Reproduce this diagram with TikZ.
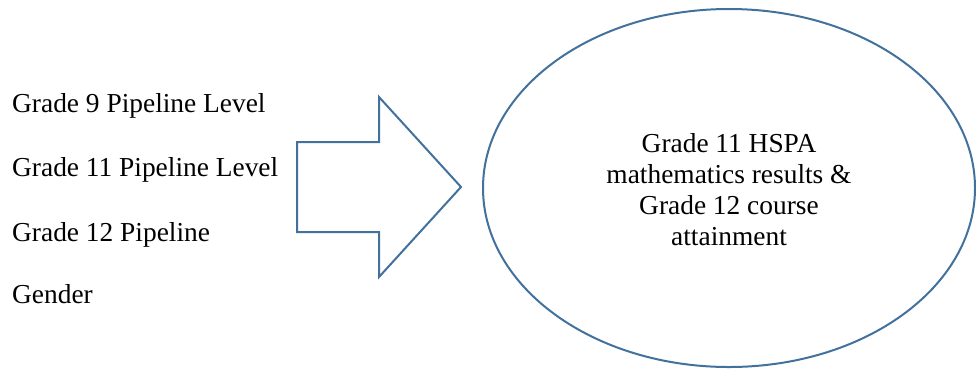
\documentclass[tikz,border=0pt]{standalone}
\usepackage{fontspec}
\setmainfont{Liberation Serif}
\usetikzlibrary{shapes.geometric}
\definecolor{outline}{RGB}{65,113,156}

\begin{document}
\begin{tikzpicture}[x=1pt,y=-1pt]
            \tikzstyle{txt}=[inner sep=0pt, font=\fontsize{27.4}{31}\selectfont]
            \tikzstyle{edge}=[draw=outline, line width=2pt, line join=miter]

            \useasboundingbox (0,0) rectangle (976,368);

            \node[txt, anchor=base west] (g9)  at (12,112) {Grade 9 Pipeline Level};
            \node[txt, anchor=base west] (g11) at (12,176) {Grade 11 Pipeline Level};
            \node[txt, anchor=base west] (g12) at (12,241) {Grade 12 Pipeline};
            \node[txt, anchor=base west] (gen) at (12,303) {Gender};

            \draw[edge] (297,142) -- (379,142) -- (379,97) -- (461,187)
                -- (379,277) -- (379,232) -- (297,232) -- cycle;

            \node[edge, ellipse, minimum width=492pt, minimum height=358pt] (res) at (729,188) {};
            \node[txt, align=center] (restxt) at (729,190)
                {Grade 11 HSPA\\mathematics results \&\\Grade 12 course\\attainment};
        \end{tikzpicture}
\end{document}
